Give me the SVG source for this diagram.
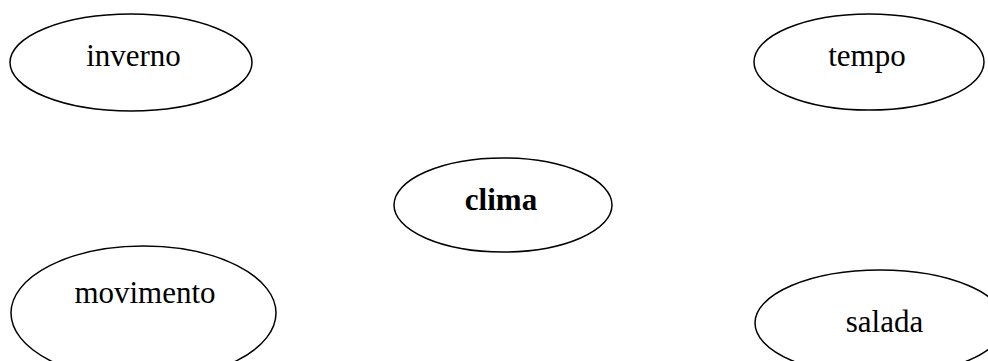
<svg xmlns="http://www.w3.org/2000/svg" width="988" height="361" viewBox="0 0 988 361">
<style>
.n ellipse{fill:none;stroke:#000;stroke-width:1.5}
.n text{font-family:"Liberation Serif","Times New Roman",serif;font-size:31px;fill:#000;text-anchor:middle}
.b{font-weight:bold}
</style>
<rect width="988" height="361" fill="#fff"/>
<g id="edges"></g>
<g id="inverno" class="n"><ellipse cx="131" cy="62.5" rx="121" ry="48.5"/><text x="133.5" y="66">inverno</text></g>
<g id="tempo" class="n"><ellipse cx="869" cy="62" rx="115" ry="48"/><text x="867" y="66">tempo</text></g>
<g id="clima" class="n"><ellipse cx="503" cy="205" rx="109" ry="47"/><text class="b" x="501" y="210">clima</text></g>
<g id="movimento" class="n"><ellipse cx="143.5" cy="313" rx="132.5" ry="67"/><text x="145" y="303">movimento</text></g>
<g id="salada" class="n"><ellipse cx="880" cy="323" rx="125" ry="53"/><text x="884.5" y="332">salada</text></g>
</svg>
